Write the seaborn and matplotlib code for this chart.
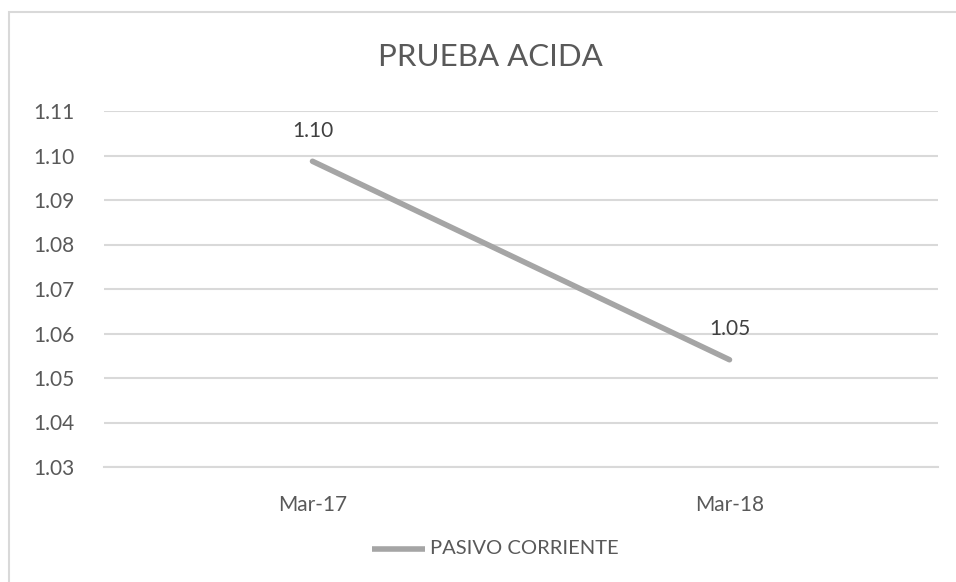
import pandas as pd
import numpy as np
import matplotlib.pyplot as plt
import seaborn as sns
from matplotlib.patches import Rectangle

periods = ["Mar-17", "Mar-18"]
ratio = [1.0987, 1.0541]
labels = ["1.10", "1.05"]
y_ticks = [1.03, 1.04, 1.05, 1.06, 1.07, 1.08, 1.09, 1.10, 1.11]
series_name = "PASIVO CORRIENTE"

sns.set_style("white")
plt.rcParams['font.family'] = ['Lato', 'DejaVu Sans']

TEXT = "#595959"
GRID = "#D9D9D9"
LINE = "#A5A5A5"

df = pd.DataFrame({"x": np.arange(len(periods)), "y": ratio, "serie": series_name})

fig = plt.figure(figsize=(9.56, 5.82), dpi=100)
ax = fig.add_axes([104/956, 1-467/582, (938-104)/956, (467-111)/582])

sns.lineplot(data=df, x="x", y="y", color=LINE, lw=4, ax=ax, legend=False,
             solid_capstyle="round")

for xi, yi, lab in zip(df["x"], df["y"], labels):
    ax.annotate(lab, (xi, yi), xytext=(0, 22), textcoords="offset points",
                ha="center", va="center", fontsize=15, color="#404040")

ax.set_xlim(-0.5, len(periods) - 0.5)
ax.set_ylim(y_ticks[0], y_ticks[-1])
ax.set_yticks(y_ticks)
ax.set_yticklabels([f"{v:.2f}" for v in y_ticks])
ax.set_xticks(df["x"])
ax.set_xticklabels(periods)
ax.set_xticks(np.arange(-0.5, len(periods), 1.0), minor=True)
ax.tick_params(axis="x", which="major", length=0, pad=20, labelsize=15, labelcolor=TEXT)
ax.tick_params(axis="x", which="minor", length=7, width=1.3, color=GRID, direction="out")
ax.tick_params(axis="y", length=0, pad=21, labelsize=15, labelcolor=TEXT)
ax.grid(axis="y", color=GRID, lw=1.5)
ax.set_axisbelow(True)
for s in ["left", "right", "top"]:
    ax.spines[s].set_visible(False)
ax.spines["bottom"].set_color(GRID)
ax.spines["bottom"].set_linewidth(1.5)
ax.set_xlabel("")
ax.set_ylabel("")

fig.text(490/956, 1-57/582, "PRUEBA ACIDA", ha="center", va="center", fontsize=22.5, color=TEXT)

# legend drawn in figure coordinates like Excel's bottom legend
fig.lines.append(plt.Line2D([372/956, 425/956], [1-549/582, 1-549/582], color=LINE, lw=4,
                            transform=fig.transFigure, solid_capstyle="butt"))
fig.text(430/956, 1-549/582, series_name, ha="left", va="center", fontsize=14.5, color=TEXT)

fig.patches.append(Rectangle((9/956, -0.1), 1.2, 1 - 12/582 + 0.1, transform=fig.transFigure,
                             fill=False, edgecolor=GRID, lw=1.5))

fig.savefig("out.png", dpi=100)
